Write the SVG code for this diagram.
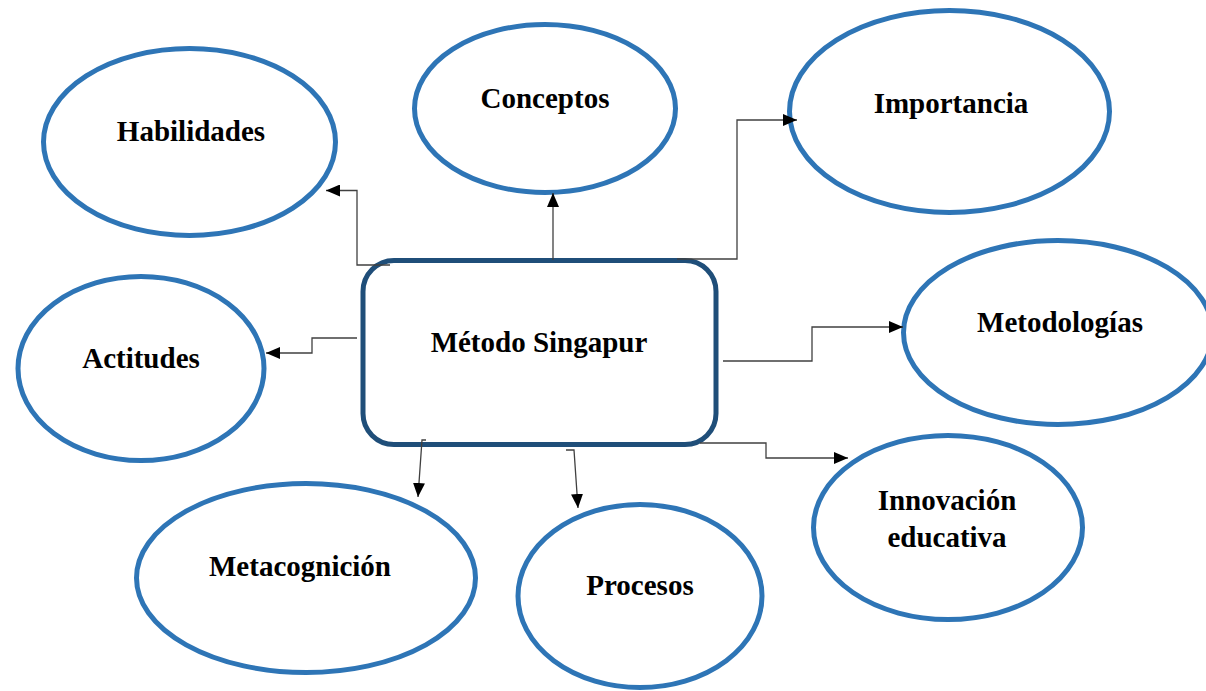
<svg xmlns="http://www.w3.org/2000/svg" width="1206" height="691" viewBox="0 0 1206 691">
<style>
.oval{fill:#ffffff;stroke:#2E75B6;stroke-width:5}
.box{fill:#ffffff;stroke:#1F4E79;stroke-width:5}
.lbl{font-family:"Liberation Serif","Times New Roman",serif;font-weight:bold;font-size:29px;fill:#000000;text-anchor:middle}
.conn{fill:none;stroke:#404040;stroke-width:1.3;marker-end:url(#arr)}
</style>
<defs>
<marker id="arr" markerUnits="userSpaceOnUse" viewBox="0 0 14 12" refX="14" refY="6" markerWidth="14" markerHeight="12" orient="auto">
<path d="M0,0 L14,6 L0,12 z" fill="#000000"/>
</marker>
</defs>
<rect width="1206" height="691" fill="#ffffff"/>
<g id="habilidades">
<ellipse class="oval" cx="189.5" cy="142" rx="146" ry="93.5"/>
<text class="lbl" x="191" y="141">Habilidades</text>
</g>
<g id="conceptos">
<ellipse class="oval" cx="545" cy="108.5" rx="130.5" ry="84"/>
<text class="lbl" x="545" y="108">Conceptos</text>
</g>
<g id="importancia">
<ellipse class="oval" cx="949.5" cy="111.5" rx="160" ry="101"/>
<text class="lbl" x="951" y="113">Importancia</text>
</g>
<g id="actitudes">
<ellipse class="oval" cx="141" cy="368.5" rx="123" ry="92"/>
<text class="lbl" x="141" y="368">Actitudes</text>
</g>
<g id="metodologias">
<ellipse class="oval" cx="1058" cy="332.5" rx="154.5" ry="92"/>
<text class="lbl" x="1060" y="332">Metodologías</text>
</g>
<g id="innovacion">
<ellipse class="oval" cx="948" cy="527.5" rx="134.5" ry="92"/>
<text class="lbl" x="947" y="510">Innovación</text>
<text class="lbl" x="947" y="547">educativa</text>
</g>
<g id="metacognicion">
<ellipse class="oval" cx="306" cy="578" rx="169.5" ry="94.5"/>
<text class="lbl" x="300" y="576">Metacognición</text>
</g>
<g id="procesos">
<ellipse class="oval" cx="640" cy="596" rx="122" ry="91.5"/>
<text class="lbl" x="640" y="595">Procesos</text>
</g>
<g id="metodo-singapur">
<rect class="box" x="363" y="260.5" width="353" height="184" rx="31" ry="31"/>
<text class="lbl" x="539" y="352">Método Singapur</text>
</g>
<g id="connectors">
<path class="conn" d="M390,265 H357 V190.5 H326"/>
<path class="conn" d="M553,260 V193"/>
<path class="conn" d="M677,259 H737 V120 H797"/>
<path class="conn" d="M357,338 H312 V353 H266"/>
<path class="conn" d="M723,361 H812 V327 H903"/>
<path class="conn" d="M700,443 H766 V458 H848"/>
<path class="conn" d="M426,440 H422 L418,497"/>
<path class="conn" d="M566,450 H574 L578,508"/>
</g>
</svg>
